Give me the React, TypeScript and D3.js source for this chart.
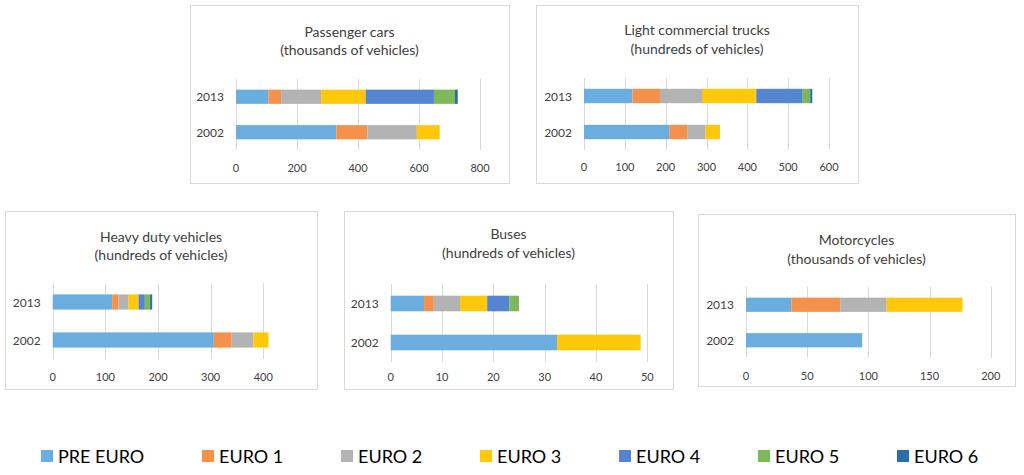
import * as React from "react";
import * as d3 from "d3";

const categories = ["PRE EURO", "EURO 1", "EURO 2", "EURO 3", "EURO 4", "EURO 5", "EURO 6"];
const colors = ["#6CADDF", "#F4914A", "#B3B3B3", "#FFC80A", "#5585D0", "#7DB85B", "#2D6DA5"];
const years = ["2013", "2002"];

const passengerCars2013 = [106, 42, 131, 146, 224, 69, 9];
const passengerCars2002 = [329, 102, 162, 75, 0, 0, 0];
const lightTrucks2013 = [119, 67, 103, 133, 112, 20, 5];
const lightTrucks2002 = [209, 45, 44, 35, 0, 0, 0];
const heavyDuty2013 = [113, 12, 19, 19, 12, 10, 4];
const heavyDuty2002 = [306, 34, 41, 29, 0, 0, 0];
const buses2013 = [6.5, 1.9, 5.1, 5.3, 4.3, 1.9, 0];
const buses2002 = [32.4, 0, 0, 16.3, 0, 0, 0];
const motorcycles2013 = [37, 40, 38, 62, 0, 0, 0];
const motorcycles2002 = [95, 0, 0, 0, 0, 0, 0];

const passengerTicks = [0, 200, 400, 600, 800];
const lightTicks = [0, 100, 200, 300, 400, 500, 600];
const heavyTicks = [0, 100, 200, 300, 400];
const busTicks = [0, 10, 20, 30, 40, 50];
const motoTicks = [0, 50, 100, 150, 200];

const font = "Lato, 'Noto Sans', sans-serif";
const textColor = "#404040";
const gridColor = "#d9d9d9";

type PanelLayout = {
	box: [number, number, number, number];
	plotX: number;
	plotW: number;
	gridTop: number;
	gridBottom: number;
	titleY: [number, number];
	tickY: number;
};

function Panel({
	layout,
	title,
	subtitle,
	ticks,
	rows,
}: {
	layout: PanelLayout;
	title: string;
	subtitle: string;
	ticks: number[];
	rows: Record<string, number[]>;
}) {
	const [bx, by, bw, bh] = layout.box;
	const x0 = bx + layout.plotX;
	const xScale = d3
		.scaleLinear()
		.domain([0, ticks[ticks.length - 1]])
		.range([x0, x0 + layout.plotW]);
	const yScale = d3
		.scaleBand<string>()
		.domain(years)
		.range([by + layout.gridTop, by + layout.gridBottom])
		.paddingInner(0.6)
		.paddingOuter(0.3);
	const stack = (vals: number[]) => {
		let acc = 0;
		return vals.map((v) => {
			const start = acc;
			acc += v;
			return [start, acc];
		});
	};
	const cx = bx + bw / 2;
	return (
		<g>
			<rect x={bx + 0.5} y={by + 0.5} width={bw} height={bh} fill="white" stroke={gridColor} />
			<text x={cx} y={by + layout.titleY[0]} textAnchor="middle" dominantBaseline="central" fontSize={14} fill={textColor}>
				{title}
			</text>
			<text x={cx} y={by + layout.titleY[1]} textAnchor="middle" dominantBaseline="central" fontSize={14} fill={textColor}>
				{subtitle}
			</text>
			{ticks.map((t) => (
				<g key={t}>
					<line
						x1={Math.round(xScale(t)) + 0.5}
						x2={Math.round(xScale(t)) + 0.5}
						y1={by + layout.gridTop}
						y2={by + layout.gridBottom}
						stroke={gridColor}
					/>
					<text x={xScale(t)} y={by + layout.tickY} textAnchor="middle" dominantBaseline="central" fontSize={11} fill={textColor}>
						{t}
					</text>
				</g>
			))}
			{years.map((yr) => (
				<g key={yr}>
					<text
						x={x0 - 12}
						y={yScale(yr)! + yScale.bandwidth() / 2}
						textAnchor="end"
						dominantBaseline="central"
						fontSize={12}
						fill={textColor}
					>
						{yr}
					</text>
					{stack(rows[yr]).map(([a, b], i) =>
						b - a > 0 ? (
							<rect
								key={i}
								x={xScale(a)}
								y={yScale(yr)}
								width={xScale(b) - xScale(a)}
								height={yScale.bandwidth()}
								fill={colors[i]}
							/>
						) : null
					)}
				</g>
			))}
		</g>
	);
}

function Legend() {
	const items: JSX.Element[] = [];
	let x = 41;
	const ref = React.useRef<SVGGElement>(null);
	categories.forEach((c, i) => {
		items.push(
			<g key={c} className="legend-item" transform={`translate(${x},0)`}>
				<rect x={0} y={450} width={12} height={12} fill={colors[i]} />
				<text x={17} y={456} dominantBaseline="central" fontSize={18} fill="#000">
					{c}
				</text>
			</g>
		);
		x += c.length > 6 ? 161 : 139;
	});
	return <g ref={ref}>{items}</g>;
}

export default function App() {
	return (
		<svg
			width={1024}
			height={475}
			style={{ position: "absolute", left: 0, top: 0, background: "white" }}
			fontFamily={font}
		>
			<rect width={1024} height={475} fill="white" />
			<Panel
				layout={{ box: [190, 5, 319, 178], plotX: 46, plotW: 244, gridTop: 74, gridBottom: 145, titleY: [26, 44], tickY: 162 }}
				title="Passenger cars"
				subtitle="(thousands of vehicles)"
				ticks={passengerTicks}
				rows={{ "2013": passengerCars2013, "2002": passengerCars2002 }}
			/>
			<Panel
				layout={{ box: [536, 5, 322, 178], plotX: 48, plotW: 245, gridTop: 73, gridBottom: 145, titleY: [24, 43], tickY: 161 }}
				title="Light commercial trucks"
				subtitle="(hundreds of vehicles)"
				ticks={lightTicks}
				rows={{ "2013": lightTrucks2013, "2002": lightTrucks2002 }}
			/>
			<Panel
				layout={{ box: [5, 211, 312, 178], plotX: 47.7, plotW: 210.6, gridTop: 72, gridBottom: 148, titleY: [25, 43], tickY: 165 }}
				title="Heavy duty vehicles"
				subtitle="(hundreds of vehicles)"
				ticks={heavyTicks}
				rows={{ "2013": heavyDuty2013, "2002": heavyDuty2002 }}
			/>
			<Panel
				layout={{ box: [344, 211, 329, 178], plotX: 46.7, plotW: 256.6, gridTop: 73, gridBottom: 151, titleY: [22, 41], tickY: 165 }}
				title="Buses"
				subtitle="(hundreds of vehicles)"
				ticks={busTicks}
				rows={{ "2013": buses2013, "2002": buses2002 }}
			/>
			<Panel
				layout={{ box: [698, 214, 317, 172], plotX: 48, plotW: 244.7, gridTop: 73, gridBottom: 144, titleY: [25, 44], tickY: 161 }}
				title="Motorcycles"
				subtitle="(thousands of vehicles)"
				ticks={motoTicks}
				rows={{ "2013": motorcycles2013, "2002": motorcycles2002 }}
			/>
			<Legend />
		</svg>
	);
}
